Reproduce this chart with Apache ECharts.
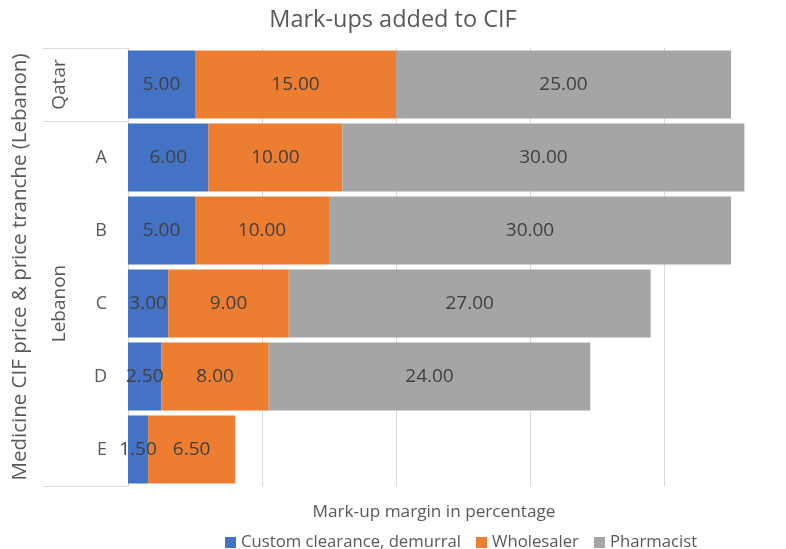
<!DOCTYPE html>
<html>
<head>
<meta charset="utf-8">
<script src="https://cdn.jsdelivr.net/npm/echarts@6/dist/echarts.min.js"></script>
<style>
  html, body { margin: 0; padding: 0; background: #fff; }
  #chart { width: 786px; height: 549px; }
</style>
</head>
<body>
<div id="chart"></div>
<script>
// rows top to bottom
const tranches = ['', 'A', 'B', 'C', 'D', 'E']
const groups = ['Qatar', '', '', 'Lebanon', '', '']
const customClearance = [5.0, 6.0, 5.0, 3.0, 2.5, 1.5]
const wholesaler = [15.0, 10.0, 10.0, 9.0, 8.0, 6.5]
const pharmacist = [25.0, 30.0, 30.0, 27.0, 24.0, null]

const font = 'Open Sans'
const textColor = '#595959'
const gridColor = '#d9d9d9'

const chart = echarts.init(document.getElementById('chart'))

const barLabel = {
  show: true,
  position: 'inside',
  color: '#404040',
  fontFamily: font,
  fontSize: 19,
  formatter: (p) => p.value.toFixed(2),
}

const makeSeries = (name, data, color) => ({
  name,
  type: 'bar',
  stack: 'total',
  data,
  barCategoryGap: '7%',
  itemStyle: { color },
  label: barLabel,
})

chart.setOption({
  title: {
    text: 'Mark-ups added to CIF',
    left: 'center',
    top: 3,
    textStyle: { fontFamily: font, fontSize: 23.5, fontWeight: 'normal', color: textColor },
  },
  legend: {
    top: 529,
    left: 220,
    icon: 'rect',
    itemWidth: 11,
    itemHeight: 11,
    itemGap: 15,
    textStyle: { fontFamily: font, fontSize: 16.7, color: textColor },
  },
  grid: {
    left: 128,
    right: -12,
    top: 48,
    bottom: 63,
    outerBoundsMode: 'none',
  },
  xAxis: {
    type: 'value',
    min: 0,
    max: 50,
    interval: 10,
    axisLabel: { show: false },
    axisLine: { show: false },
    axisTick: { show: false },
    splitLine: { lineStyle: { color: gridColor, width: 1 } },
    name: 'Mark-up margin in percentage',
    nameLocation: 'middle',
    nameGap: 18,
    nameTextStyle: {
      fontFamily: font,
      fontSize: 17.2,
      color: textColor,
      padding: [0, 58, 0, 0],
    },
  },
  yAxis: [
    {
      type: 'category',
      position: 'left',
      inverse: true,
      data: tranches,
      axisLine: { show: true, lineStyle: { color: gridColor } },
      axisTick: {
        show: true,
        length: 85,
        interval: (i) => i <= 1,
        lineStyle: { color: gridColor },
      },
      axisLabel: {
        interval: 0,
        margin: 21,
        fontFamily: font,
        fontSize: 18,
        color: textColor,
      },
      name: 'Medicine CIF price & price tranche (Lebanon)',
      nameLocation: 'middle',
      nameGap: 97,
      nameTextStyle: { fontFamily: font, fontSize: 20.5, color: textColor },
    },
    {
      type: 'category',
      position: 'left',
      inverse: true,
      data: groups,
      axisLine: { show: false },
      axisTick: { show: false },
      axisLabel: {
        interval: 0,
        rotate: 90,
        margin: 59,
        fontFamily: font,
        fontSize: 19,
        color: textColor,
      },
    },
  ],
  series: [
    makeSeries('Custom clearance, demurral', customClearance, '#4472c4'),
    makeSeries('Wholesaler', wholesaler, '#ed7d31'),
    makeSeries('Pharmacist', pharmacist, '#a5a5a5'),
  ],
})
</script>
</body>
</html>
